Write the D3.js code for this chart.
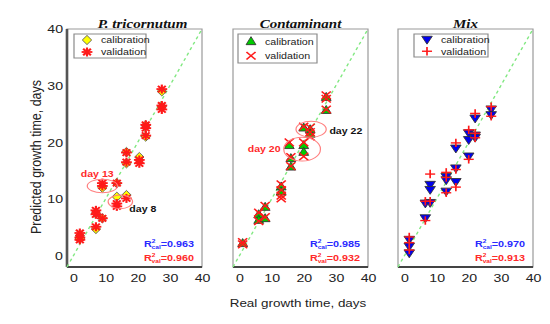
<!DOCTYPE html>
<html lang="en">
<head>
<meta charset="UTF-8">
<title>Predicted vs real growth time</title>
<script src="https://cdn.jsdelivr.net/npm/d3@7"></script>
<style>
  body { margin: 0; background: #fff; font-family: Arial, "Liberation Sans", sans-serif; }
</style>
</head>
<body>
<div id="chart"></div>
<script>
// data: [real, predicted] in days
const triCal = [[2,3.5],[2,3],[7,4.7],[7,7.5],[9,6.6],[9,12],[13.5,12.8],[13.5,10.4],[16.5,10.7],[16.5,18.3],[16.5,16.3],[20.5,17.4],[22.5,23],[22.5,21],[27.5,29],[27.5,26.3]];
const triVal = [[2,4],[2,3.2],[2,2.8],[7,5.1],[7,8],[7,7.3],[9,6.6],[9,12.8],[9,12.3],[13.5,12.8],[13.5,9.2],[13.5,8.7],[16.5,10.1],[16.5,18.2],[16.5,16.5],[20.5,16.9],[20.5,16.3],[22.5,23.1],[22.5,22.5],[22.5,21.2],[27.5,29.4],[27.5,26.5],[27.5,25.8]];
const conCal = [[1,2.2],[6,7.3],[6,6.3],[8,8.6],[8,6.6],[13,12.2],[13,11.3],[16,17.2],[16,15.7],[15.5,19.5],[20,22.6],[20,19.5],[20,18.3],[22,22.3],[22,21.5],[27,28],[27,25.7]];
const conVal = [[1,2.4],[1,2],[6,7.6],[6,6.1],[8,8.8],[8,6.8],[13,12.6],[13,11.6],[13,10.6],[13,10.1],[16,17.4],[16,15.8],[15.5,20],[20,22.8],[20,20],[20,17.5],[22,22.6],[22,21.8],[22,21],[27,28.3],[27,27.7],[27,25.8]];
const mixCal = [[1.5,2.8],[1.5,1.6],[1.5,0.4],[6.5,9.2],[6.5,6.6],[8,12.5],[8,11.6],[8,9.3],[13,13.9],[13,13.3],[13,11.3],[16,15.4],[16,18.9],[16,13],[20,17.5],[20,21.6],[20,20.4],[22,24.2],[22,21.2],[22,20.8],[27,25.8],[27,24.8]];
const mixVal = [[1.5,3.3],[1.5,2.3],[1.5,1],[6.5,9.6],[6.5,6.2],[8,14.4],[8,9.6],[13,14.7],[13,13.8],[13,11.1],[16,15.2],[16,19.9],[16,12.1],[20,17],[20,22.2],[22,25.1],[22,21.6],[22,20.8],[27,26.3],[27,24.6]];

const titles = ["P. tricornutum", "Contaminant", "Mix"];
const r2cal = ["0.963", "0.985", "0.970"];
const r2val = ["0.960", "0.932", "0.913"];
const ticks = [0, 10, 20, 30, 40];

// annotations: ellipse centre/radii in data units
const ellipses = [
  [{cx: 9, cy: 12.3, rx: 4.7, ry: 1.2}, {cx: 14.6, cy: 9.5, rx: 3.8, ry: 1.2}],
  [{cx: 22.3, cy: 22.3, rx: 4.7, ry: 1.4}, {cx: 19.5, cy: 18.8, rx: 5.7, ry: 2.1}],
  []
];
const dayLabels = [
  [{text: "day 13", x: 7.4, y: 13.9, color: "#ff2a2a", anchor: "middle"}, {text: "day 8", x: 17.4, y: 7.7, color: "#111", anchor: "start"}],
  [{text: "day 22", x: 28, y: 21.4, color: "#111", anchor: "start"}, {text: "day 20", x: 12.8, y: 18.3, color: "#ff2a2a", anchor: "end"}],
  []
];

const W = 550, H = 324;
// the original figure is stretched horizontally, so everything is drawn squeezed and scaled back
const sx = 1.2;
const X = v => v / sx;

const svg = d3.select("#chart").append("svg").attr("width", W).attr("height", H);
const root = svg.append("g").attr("transform", `scale(${sx},1)`);

const plotTop = 29, ph = 238, pw = 135;
const lefts = [67, 233, 398];
const legendCfg = [{dx: 7, w: 72, h: 24}, {dx: 5, w: 79, h: 29}, {dx: 16, w: 74, h: 23}];

const red = "#ff1a1a";

function drawMarker(g, kind, x, y) {
  if (kind === "diamond") {
    g.append("path").attr("d", `M${x},${y-4.6}L${x+3.9},${y}L${x},${y+4.6}L${x-3.9},${y}Z`)
      .attr("fill", "#ffff00").attr("stroke", "#555").attr("stroke-width", 0.8);
  } else if (kind === "star") {
    const r = 4.5;
    [[r,0],[0,r],[r*0.72,r*0.72],[r*0.72,-r*0.72]].forEach(([a,b]) => {
      g.append("line").attr("x1", x-a).attr("y1", y-b).attr("x2", x+a).attr("y2", y+b)
        .attr("stroke", red).attr("stroke-width", 1.8);
    });
  } else if (kind === "tri") {
    g.append("path").attr("d", `M${x},${y-4.6}L${x+4.1},${y+3.4}L${x-4.1},${y+3.4}Z`)
      .attr("fill", "#00cc00").attr("stroke", "#333").attr("stroke-width", 0.8);
  } else if (kind === "x") {
    const r = 3.8;
    g.append("line").attr("x1", x-r).attr("y1", y-r).attr("x2", x+r).attr("y2", y+r).attr("stroke", red).attr("stroke-width", 1.4);
    g.append("line").attr("x1", x-r).attr("y1", y+r).attr("x2", x+r).attr("y2", y-r).attr("stroke", red).attr("stroke-width", 1.4);
  } else if (kind === "tridown") {
    g.append("path").attr("d", `M${x},${y+4.4}L${x+4.4},${y-3.5}L${x-4.4},${y-3.5}Z`)
      .attr("fill", "#0000ee").attr("stroke", "#333").attr("stroke-width", 0.8);
  } else if (kind === "plus") {
    const r = 4.2;
    g.append("line").attr("x1", x-r).attr("y1", y).attr("x2", x+r).attr("y2", y).attr("stroke", red).attr("stroke-width", 1.4);
    g.append("line").attr("x1", x).attr("y1", y-r).attr("x2", x).attr("y2", y+r).attr("stroke", red).attr("stroke-width", 1.4);
  }
}

const panels = [
  {cal: triCal, val: triVal, calM: "diamond", valM: "star"},
  {cal: conCal, val: conVal, calM: "tri", valM: "x"},
  {cal: mixCal, val: mixVal, calM: "tridown", valM: "plus"}
];

panels.forEach((p, i) => {
  const left = X(lefts[i]), w = X(pw);
  const x = d3.scaleLinear().domain([-2, 40]).range([left, left + w]);
  const y = d3.scaleLinear().domain([-2, 40]).range([plotTop + ph, plotTop]);
  const g = root.append("g");

  // frame
  g.append("rect").attr("x", left).attr("y", plotTop).attr("width", w).attr("height", ph)
    .attr("fill", "#fff").attr("stroke", "#9a9a9a").attr("stroke-width", 1);
  g.append("line").attr("x1", left).attr("x2", left + w).attr("y1", plotTop + ph).attr("y2", plotTop + ph)
    .attr("stroke", "#444").attr("stroke-width", 2);
  if (i === 0) {
    g.append("line").attr("x1", left).attr("x2", left).attr("y1", plotTop).attr("y2", plotTop + ph)
      .attr("stroke", "#555").attr("stroke-width", 2.2);
  }

  // x axis tick labels
  const xa = g.append("g").attr("transform", `translate(0,${plotTop + ph + 2})`)
    .call(d3.axisBottom(x).tickValues(ticks).tickSize(0).tickPadding(5));
  xa.select(".domain").remove();
  xa.selectAll("text").attr("font-size", 11.8).attr("fill", "#222").attr("font-family", "Arial, sans-serif");

  if (i === 0) {
    const ya = g.append("g").attr("transform", `translate(${left - X(4)},0)`)
      .call(d3.axisLeft(y).tickValues(ticks).tickSize(0).tickPadding(0));
    ya.select(".domain").remove();
    ya.selectAll("text").attr("font-size", 11.8).attr("fill", "#222").attr("font-family", "Arial, sans-serif");
  }

  // 1:1 line
  g.append("line").attr("x1", x(-2)).attr("y1", y(-2)).attr("x2", x(40)).attr("y2", y(40))
    .attr("stroke", "#80e880").attr("stroke-width", 1.2).attr("stroke-dasharray", "3,3");

  // points
  p.cal.forEach(d => drawMarker(g, p.calM, x(d[0]), y(d[1])));
  p.val.forEach(d => drawMarker(g, p.valM, x(d[0]), y(d[1])));

  // annotations
  ellipses[i].forEach(e => {
    g.append("ellipse").attr("cx", x(e.cx)).attr("cy", y(e.cy))
      .attr("rx", x(e.cx + e.rx) - x(e.cx)).attr("ry", y(e.cy) - y(e.cy + e.ry))
      .attr("fill", "none").attr("stroke", "#ff8080").attr("stroke-width", 1);
  });
  dayLabels[i].forEach(t => {
    g.append("text").attr("x", x(t.x)).attr("y", y(t.y)).attr("text-anchor", t.anchor)
      .attr("font-size", 8.8).attr("font-weight", "bold").attr("fill", t.color).text(t.text);
  });

  // title
  g.append("text").attr("x", X(lefts[i] + pw / 2 + (i === 0 ? 8 : 0))).attr("y", plotTop - 1)
    .attr("text-anchor", "middle").attr("font-family", "'Liberation Serif', 'Times New Roman', serif")
    .attr("font-style", "italic").attr("font-weight", "bold").attr("font-size", 12.5).attr("fill", "#111")
    .text(titles[i]);

  // legend
  const lc = legendCfg[i];
  const lx = X(lefts[i] + lc.dx), ly = plotTop + 5;
  g.append("rect").attr("x", lx).attr("y", ly).attr("width", X(lc.w)).attr("height", lc.h)
    .attr("fill", "#fff").attr("stroke", "#8a8a8a").attr("stroke-width", 1);
  const rowGap = lc.h / 2;
  [[p.calM, "calibration"], [p.valM, "validation"]].forEach(([m, label], k) => {
    const cy = ly + rowGap * 0.5 + k * rowGap;
    drawMarker(g, m, lx + X(13), cy);
    g.append("text").attr("x", lx + X(27)).attr("y", cy + 3.3).attr("font-size", 8.9)
      .attr("fill", "#222").text(label);
  });

  // R^2 labels
  const rx = X(lefts[i] + pw - 58);
  [[r2cal[i], "cal", "#2a2aff", plotTop + ph - 20], [r2val[i], "val", "#ff2a2a", plotTop + ph - 6]].forEach(([v, sub, col, by]) => {
    const t = g.append("text").attr("x", rx).attr("y", by).attr("font-size", 9)
      .attr("font-weight", "bold").attr("fill", col);
    t.append("tspan").text("R");
    t.append("tspan").attr("font-size", 5.5).attr("dy", -4).text("2");
    t.append("tspan").attr("font-size", 5.5).attr("dx", -3.2).attr("dy", 6.5).text(sub);
    t.append("tspan").attr("dy", -2.5).text("=" + v);
  });
});

// axis titles
root.append("text").attr("transform", `translate(${X(41)},157) rotate(-90)`).attr("text-anchor", "middle")
  .attr("font-size", 12.5).attr("fill", "#222").text("Predicted growth time, days");
root.append("text").attr("x", X(298)).attr("y", 307).attr("text-anchor", "middle")
  .attr("font-size", 11.2).attr("fill", "#222").text("Real growth time, days");
</script>
</body>
</html>
